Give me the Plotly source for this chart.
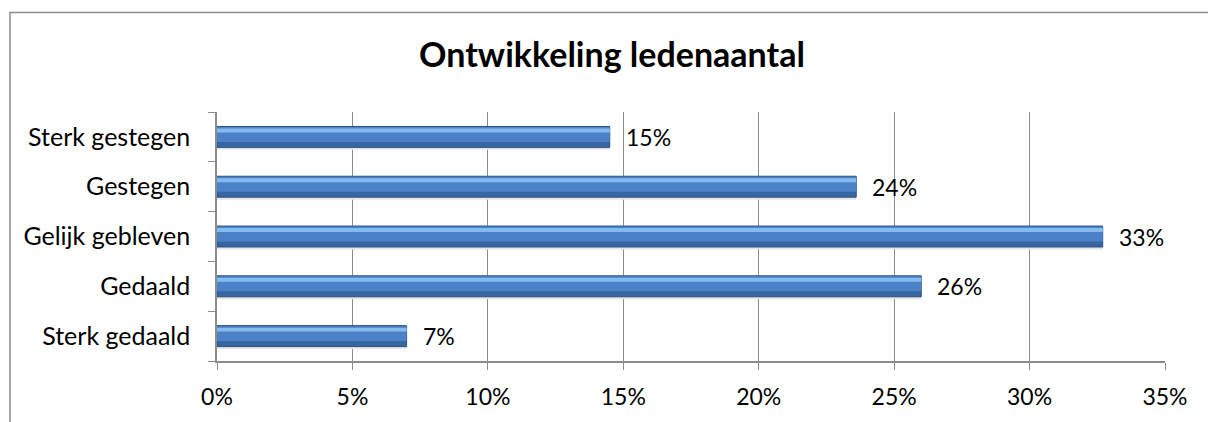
"""
Ontwikkeling ledenaantal - horizontal bar chart in Plotly
"""
import plotly.graph_objects as go

# data, listed bottom to top
categories = ['Sterk gedaald', 'Gedaald', 'Gelijk gebleven', 'Gestegen', 'Sterk gestegen']
shares = [0.070, 0.260, 0.327, 0.236, 0.145]
labels = ['7%', '26%', '33%', '24%', '15%']
x_ticks = [0, 0.05, 0.10, 0.15, 0.20, 0.25, 0.30, 0.35]
x_tick_labels = ['0%', '5%', '10%', '15%', '20%', '25%', '30%', '35%']

FONT = 'Lato, Carlito, Calibri, sans-serif'
GRID = '#8c8c8c'

fig = go.Figure()

# soft shadow under the bars
fig.add_trace(go.Bar(
    x=shares, y=categories, orientation='h',
    width=0.06, offset=-0.26,
    marker=dict(color='#e4e4e4', line=dict(width=0)),
    hoverinfo='skip'
))
# base bar (darker body)
fig.add_trace(go.Bar(
    x=shares, y=categories, orientation='h',
    width=0.42, offset=-0.21,
    marker=dict(color='#3766a3', line=dict(color='#2a4f80', width=1)),
    hoverinfo='x+y'
))
# upper part, medium blue
fig.add_trace(go.Bar(
    x=shares, y=categories, orientation='h',
    width=0.30, offset=-0.10,
    marker=dict(color='#4b82c7', line=dict(width=0)),
    hoverinfo='skip'
))
# highlight strip near the top
fig.add_trace(go.Bar(
    x=shares, y=categories, orientation='h',
    width=0.08, offset=0.09,
    marker=dict(color='#84baee', line=dict(width=0)),
    hoverinfo='skip'
))

# value labels
for cat, val, lab in zip(categories, shares, labels):
    fig.add_annotation(
        x=val, y=cat, text=lab, showarrow=False,
        xanchor='left', yanchor='middle', xshift=14,
        font=dict(family=FONT, size=23, color='#000000')
    )

# outer chart border (cropped at right and bottom)
fig.add_shape(
    type='rect', xref='paper', yref='paper',
    x0=-0.2184, x1=1.07, y0=-0.35, y1=1.3996,
    line=dict(color='#8c8c8c', width=1.5), fillcolor='rgba(0,0,0,0)',
    layer='below'
)

fig.update_layout(
    width=1208, height=414,
    margin=dict(l=209, r=51, t=104, b=61),
    barmode='overlay',
    showlegend=False,
    plot_bgcolor='white',
    paper_bgcolor='white',
    title=dict(
        text='<b>Ontwikkeling ledenaantal</b>',
        x=0.5, xanchor='center', y=0.886, yanchor='middle',
        font=dict(family=FONT, size=34, color='#000000')
    ),
    font=dict(family=FONT, size=23, color='#000000')
)

fig.update_xaxes(
    range=[0, 0.35],
    tickvals=x_ticks, ticktext=x_tick_labels,
    showgrid=True, gridcolor=GRID, gridwidth=1,
    showline=True, linecolor=GRID, linewidth=1.5,
    ticks='outside', ticklen=7, tickcolor=GRID,
    ticklabelstandoff=8,
    zeroline=False,
    tickfont=dict(family=FONT, size=23)
)

fig.update_yaxes(
    categoryorder='array', categoryarray=categories,
    showgrid=False,
    showline=True, linecolor=GRID, linewidth=1.5,
    ticks='outside', ticklen=7, tickcolor=GRID,
    tickson='boundaries',
    ticklabelstandoff=20,
    tickfont=dict(family=FONT, size=25)
)

fig.write_html('out.html')
